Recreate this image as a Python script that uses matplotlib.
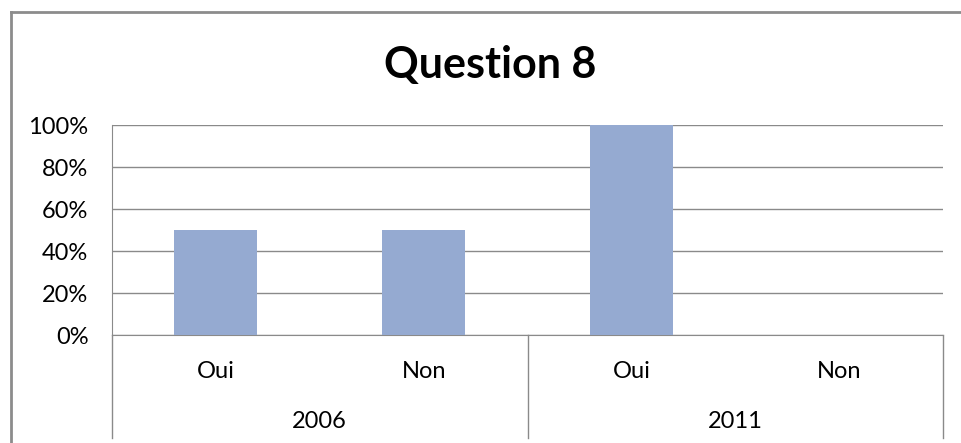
import matplotlib
matplotlib.use("Agg")
import matplotlib.pyplot as plt
from matplotlib.lines import Line2D
from matplotlib.ticker import PercentFormatter

# données
annees = ["2006", "2011"]
reponses = ["Oui", "Non"]
valeurs = [50, 50, 100, 0]  # Oui/Non 2006, Oui/Non 2011

plt.rcParams["font.family"] = ["Lato", "DejaVu Sans"]

W, H = 962, 443
fig = plt.figure(figsize=(W / 100, H / 100), dpi=100)
fig.patch.set_facecolor("white")

# cadre extérieur du graphique (gauche et haut visibles)
gris_cadre = "#8c8c8c"
fig.add_artist(Line2D([11 / W, 11 / W], [0, 1 - 12 / H], color=gris_cadre, lw=2))
fig.add_artist(Line2D([11 / W, 1], [1 - 12 / H, 1 - 12 / H], color=gris_cadre, lw=2))

gauche, droite, haut, bas = 112, 943, 125, 335
ax = fig.add_axes([gauche / W, 1 - bas / H, (droite - gauche) / W, (bas - haut) / H])

n = len(valeurs)
x = list(range(n))
ax.bar(x, valeurs, width=0.4, color="#95aad1", zorder=3)

ax.set_xlim(-0.5, n - 0.5)
ax.set_ylim(0, 100)
ax.set_yticks([0, 20, 40, 60, 80, 100])
ax.yaxis.set_major_formatter(PercentFormatter(decimals=0))
ax.tick_params(axis="y", length=0, pad=17, labelsize=17)
ax.set_xticks([])
ax.grid(axis="y", color="#8a8a8a", lw=1, zorder=0)

for s in ["top", "right"]:
    ax.spines[s].set_visible(False)
ax.spines["left"].set_color("#8a8a8a")
ax.spines["bottom"].set_color("#8a8a8a")

# axe des catégories à deux niveaux
tr = ax.get_xaxis_transform()
fond = -(438 - bas) / (bas - haut)
for xs in [-0.5, 1.5, 3.5]:
    ax.plot([xs, xs], [0, fond], color="#8a8a8a", lw=1, transform=tr, clip_on=False)

for i in range(n):
    ax.text(i, -(372 - bas) / (bas - haut), reponses[i % 2], transform=tr,
            ha="center", va="center", fontsize=17)
for j, a in enumerate(annees):
    ax.text(2 * j + 0.5, -(422 - bas) / (bas - haut), a, transform=tr,
            ha="center", va="center", fontsize=17)

fig.text(490 / W, 1 - 65 / H, "Question 8", ha="center", va="center",
         fontsize=31, fontweight="bold")

fig.savefig("out.png", dpi=100)
